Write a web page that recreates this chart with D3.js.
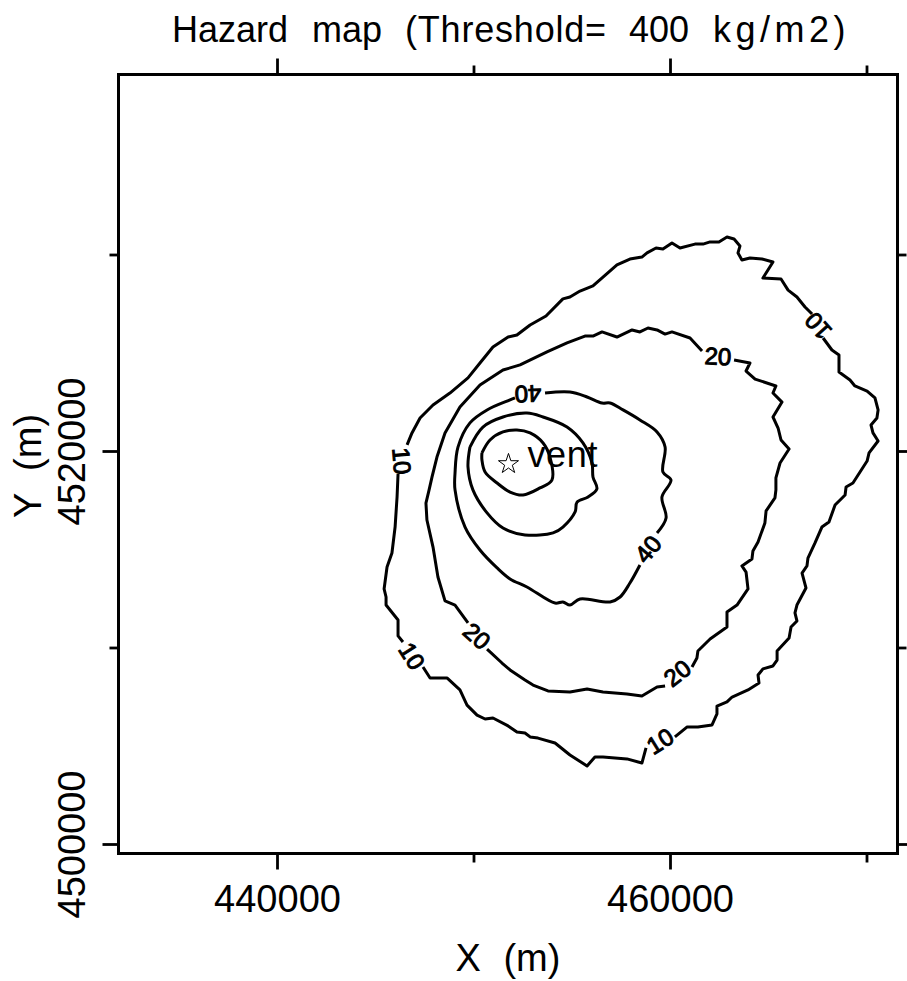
<!DOCTYPE html>
<html>
<head>
<meta charset="utf-8">
<script src="https://cdn.jsdelivr.net/npm/d3@7/dist/d3.min.js"></script>
<style>
html, body { margin: 0; padding: 0; background: #fff; }
svg { display: block; }
text { font-family: "Liberation Sans", sans-serif; fill: #000; }
</style>
</head>
<body>
<svg id="chart" width="907" height="981"></svg>
<script>
// contour lines, [X (m), Y (m)], null = gap for a label
var contour10 = [
[446620,4520310],[446870,4520920],[447280,4521680],[447940,4522340],[448800,4522950],[449720,4523720],
[450330,4524480],[450990,4525290],[451760,4525800],[452210,4525900],[452880,4526410],[453690,4526870],
[454550,4527740],[454910,4527840],[455420,4528140],[456080,4528400],[456590,4528850],[457300,4529470],
[457960,4529770],[458570,4529870],[458830,4530080],[459290,4530330],[459640,4530280],[460100,4530590],
[460510,4530330],[461270,4530530],[461680,4530530],[462040,4530640],[462490,4530640],[462900,4530890],
[463260,4530790],[463560,4530430],[463460,4530080],[463660,4529720],[464070,4529820],[464680,4529770],
[465240,4529620],[464730,4528800],[465650,4528750],[466010,4528190],[466460,4527840],[466870,4527330],
[467230,4526970],null,
[467790,4525750],[468240,4525140],[468600,4524890],[468600,4524020],[469160,4523610],[469410,4523310],
[470030,4523050],[470430,4522700],[470590,4522090],[470530,4521680],[470230,4521320],[470330,4520920],
[470590,4520510],[470130,4519900],[470030,4519490],[469670,4518930],[469310,4518370],[468960,4518170],
[468910,4517760],[468400,4517250],[468090,4516390],[467730,4516130],[467380,4515320],[467020,4514550],
[466970,4514150],[466720,4513790],[466920,4513030],[466460,4512160],[466360,4511760],[466460,4511350],
[466160,4511040],[466060,4510480],[465450,4509820],[465450,4509360],[465240,4509060],[464730,4508910],
[464480,4508600],[464530,4508190],[463970,4507840],[463160,4507480],[462900,4507230],[462390,4507020],
[462390,4506620],[462140,4506060],[461420,4505950],[460860,4505950],[460250,4505450],null,
[458780,4504890],[458570,4504120],[457810,4504330],[456590,4504430],[456180,4504430],[455780,4503970],
[454910,4504530],[454150,4505140],[453280,4505390],[452880,4505450],[452620,4505650],[452210,4505700],
[451760,4506010],[450990,4506410],[450590,4506360],[450180,4506560],[449670,4507070],[449310,4507840],
[448650,4508450],[447790,4508450],[447430,4509010],null,
[446410,4510280],[446160,4510590],[446160,4511400],[445550,4512160],[445550,4512570],[445450,4512980],
[445600,4514100],[445850,4514810],[446010,4516130],[446110,4517660],[446160,4518830]
];

var contour20 = [
[463260,4524630],[464070,4524480],[463870,4524070],[464330,4523660],[465390,4523310],[465240,4522950],
[465700,4522490],[465240,4521730],[465500,4521170],[465650,4520560],[466060,4520100],[465600,4519390],
[465390,4518630],[465390,4518020],[465340,4517610],[464890,4516950],[464830,4516340],[464480,4515370],
[464220,4514910],[464170,4514500],[463660,4514150],[463870,4513840],[463970,4512980],[463410,4512160],
[462900,4511810],[462900,4511040],[462040,4510430],[461420,4509820],[461370,4509470],[461120,4509010],null,
[459750,4508040],[459340,4507990],[458570,4507530],[457810,4507630],[456590,4507740],[455780,4507890],
[454910,4507740],[453790,4507790],[453030,4508090],[452620,4508350],[451860,4508860],[451450,4509210],
[450690,4509920],null,
[449720,4511250],[449060,4512160],[448550,4512370],[448190,4513590],[447940,4515110],[447630,4516490],
[447580,4517350],[447740,4518020],[447890,4518680],[448140,4519690],[448550,4520920],[449310,4522240],
[450330,4523360],[451500,4524120],[452370,4524380],[453740,4525040],[454760,4525500],[455670,4525850],
[456080,4525850],[456540,4526060],[457300,4525800],[458070,4526160],[458470,4526060],[458880,4526260],
[459340,4526160],[459750,4525950],[460100,4526060],[461020,4525750],[461630,4525090]
];

var contour40 = [
[453640,4522950],[454910,4523000],[455780,4522750],[456540,4522440],[456950,4522440],[457610,4522090],
[458470,4521580],[459340,4520970],[459750,4520200],[459640,4518930],[460050,4518520],[459590,4517660],
[459800,4516590],[459340,4515830],null,
[458470,4514200],[457960,4513280],[457460,4512570],[456950,4512320],[455420,4512470],[454910,4512160],
[454550,4512320],[454150,4512260],[452720,4513080],[451860,4513490],[451200,4514050],[450330,4514960],
[449570,4516130],[449060,4518020],[449060,4518880],[449210,4520200],[449820,4521430],[450690,4522090],
[451860,4522600],[452110,4522700]
];

var contourInner = [
[449820,4520200],[450480,4521220],[451500,4521730],[452720,4521930],[453540,4521730],[454760,4521220],
[455570,4520410],[456030,4519390],[456080,4518680],[456280,4518070],[455830,4517660],[455270,4517400],
[455170,4516900],[454550,4516130],[454050,4515830],[452620,4515730],[451500,4516080],[450690,4516850],
[449970,4518020],[449720,4519190],[449820,4520200]
];

var contourCore = [
[450430,4519900],[450840,4520560],[451500,4520970],[452210,4521070],[452880,4520920],[453540,4520410],
[453890,4519690],[453990,4518520],[453380,4518120],[452520,4517760],[451860,4517910],[451200,4518370],
[450590,4518930],[450430,4519540],[450430,4519900]
];

// level, X, Y, rotation of the text
var contourLabels = [
["10",446360,4519490,85],
["40",452770,4522900,178],
["20",462440,4524830,3],
["10",467530,4526360,228],
["40",458880,4515010,-50],
["20",460360,4508700,-38],
["10",459490,4505240,-32],
["20",450180,4510590,42],
["10",446870,4509570,58]
];

var vent = [451780,4519340];
var xTicks = [440000,450000,460000,470000];
var yTicks = [4500000,4510000,4520000,4530000];
var xLabelled = [440000,460000];
var yLabelled = [4500000,4520000];

var svg = d3.select("#chart");
var left = 118.5, right = 897.5, top_ = 74.5, bottom = 853.5;

var x = d3.scaleLinear().domain([440000,460000]).range([277,670]);
x.domain([x.invert(left),x.invert(right)]).range([left,right]);
var y = d3.scaleLinear().domain([4500000,4520000]).range([844,451]);
y.domain([y.invert(bottom),y.invert(top_)]).range([bottom,top_]);

function xFormat(d) { return xLabelled.indexOf(d) >= 0 ? d3.format("d")(d) : ""; }
function yFormat(d) { return yLabelled.indexOf(d) >= 0 ? d3.format("d")(d) : ""; }

// major ticks are twice the minor ones
function setTicks(g, majors, attr, sign) {
    g.select(".domain").remove();
    g.selectAll(".tick line")
        .attr("stroke", "#000")
        .attr("stroke-width", 2.8)
        .attr(attr, function (d) { return sign * (majors.indexOf(d) >= 0 ? 16 : 9); });
}

var bottomAxis = svg.append("g").attr("transform", "translate(0," + bottom + ")")
    .call(d3.axisBottom(x).tickValues(xTicks).tickFormat(xFormat).tickSizeOuter(0));
setTicks(bottomAxis, xLabelled, "y2", 1);
bottomAxis.selectAll(".tick text").attr("y", 58.5).attr("dy", 0)
    .style("font-size", "38px").style("font-family", "Liberation Sans");

var topAxis = svg.append("g").attr("transform", "translate(0," + top_ + ")")
    .call(d3.axisTop(x).tickValues(xTicks).tickFormat("").tickSizeOuter(0));
setTicks(topAxis, xLabelled, "y2", -1);

var leftAxis = svg.append("g").attr("transform", "translate(" + left + ",0)")
    .call(d3.axisLeft(y).tickValues(yTicks).tickFormat(yFormat).tickSizeOuter(0));
setTicks(leftAxis, yLabelled, "x2", -1);
leftAxis.selectAll(".tick text")
    .attr("transform", "translate(-33.5,0) rotate(-90)")
    .attr("x", 0).attr("y", 0).attr("dy", 0)
    .attr("text-anchor", "middle")
    .style("font-size", "38px").style("font-family", "Liberation Sans");

var rightAxis = svg.append("g").attr("transform", "translate(" + right + ",0)")
    .call(d3.axisRight(y).tickValues(yTicks).tickFormat("").tickSizeOuter(0));
setTicks(rightAxis, yLabelled, "x2", 1);

svg.append("rect")
    .attr("x", left).attr("y", top_)
    .attr("width", right - left).attr("height", bottom - top_)
    .attr("fill", "none").attr("stroke", "#000").attr("stroke-width", 3);

// contours, the outer two are jagged and the inner ones smooth
var line = d3.line()
    .defined(function (d) { return d !== null; })
    .x(function (d) { return x(d[0]); })
    .y(function (d) { return y(d[1]); });
var smoothLine = d3.line()
    .defined(function (d) { return d !== null; })
    .curve(d3.curveCatmullRom.alpha(0.5))
    .x(function (d) { return x(d[0]); })
    .y(function (d) { return y(d[1]); });

function drawContours(lines, gen) {
    svg.selectAll("path.none")
        .data(lines)
        .enter()
        .append("path")
        .attr("class", "contour")
        .attr("d", gen)
        .attr("fill", "none")
        .attr("stroke", "#000")
        .attr("stroke-width", 3)
        .attr("stroke-linejoin", "round");
}
drawContours([contour10, contour20], line);
drawContours([contour40, contourInner, contourCore], smoothLine);

svg.selectAll("text.level")
    .data(contourLabels)
    .enter()
    .append("text")
    .attr("class", "level")
    .attr("text-anchor", "middle")
    .attr("dy", "0.36em")
    .attr("transform", function (d) { return "translate(" + x(d[1]) + "," + y(d[2]) + ") rotate(" + d[3] + ")"; })
    .style("font-size", "24px")
    .style("stroke", "#000")
    .style("stroke-width", 1)
    .text(function (d) { return d[0]; });

// vent
svg.append("path")
    .attr("d", d3.symbol().type(d3.symbolStar).size(125))
    .attr("transform", "translate(" + x(vent[0]) + "," + y(vent[1]) + ")")
    .attr("fill", "none")
    .attr("stroke", "#000")
    .attr("stroke-width", 1);

svg.append("text")
    .attr("x", x(vent[0]) + 19)
    .attr("y", y(vent[1]) + 3)
    .attr("textLength", 70)
    .style("font-size", "36px")
    .text("vent");

// title, each word placed on its own since the gaps are wide
svg.append("text")
    .attr("x", 172).attr("y", 42)
    .style("font-size", "36px")
    .selectAll("tspan")
    .data([["Hazard",172],["map",312],["(Threshold=",405],["400",629],["kg/m2)",713]])
    .enter()
    .append("tspan")
    .attr("x", function (d) { return d[1]; })
    .style("letter-spacing", function (d) { return d[0] === "kg/m2)" ? "4.5px" : (d[0] === "(Threshold=" ? "0.8px" : "0"); })
    .text(function (d) { return d[0]; });

svg.append("text")
    .attr("x", 508).attr("y", 971)
    .attr("text-anchor", "middle")
    .style("font-size", "38px")
    .style("word-spacing", "12px")
    .text("X (m)");

svg.append("text")
    .attr("transform", "translate(41,466) rotate(-90)")
    .attr("text-anchor", "middle")
    .style("font-size", "38px")
    .style("word-spacing", "12px")
    .text("Y (m)");
</script>
</body>
</html>
